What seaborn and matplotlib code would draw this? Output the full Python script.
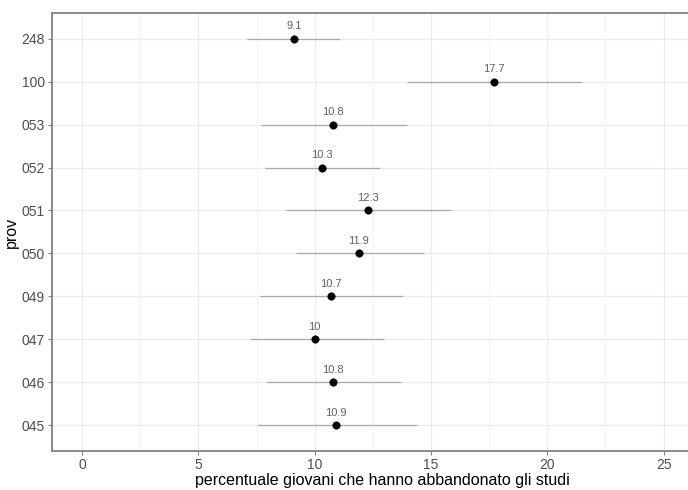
import numpy as np
import matplotlib
matplotlib.use("Agg")
import matplotlib.pyplot as plt
import seaborn as sns
from matplotlib.ticker import MultipleLocator

# data, bottom to top
prov = ["045", "046", "047", "049", "050", "051", "052", "053", "100", "248"]
perc = [10.9, 10.8, 10.0, 10.7, 11.9, 12.3, 10.3, 10.8, 17.7, 9.1]
low = [7.5, 7.9, 7.2, 7.65, 9.2, 8.75, 7.85, 7.7, 13.95, 7.1]
high = [14.4, 13.7, 13.0, 13.8, 14.7, 15.85, 12.8, 13.95, 21.5, 11.1]
labels = ["10.9", "10.8", "10", "10.7", "11.9", "12.3", "10.3", "10.8", "17.7", "9.1"]

sns.set_theme(style="whitegrid")
plt.rcParams["font.family"] = ["Liberation Sans", "DejaVu Sans"]

fig = plt.figure(figsize=(6.88, 4.90), dpi=100)
# the original is cropped on the right, so the panel runs past the edge
ax = fig.add_axes([0.0756, 0.0796, 0.96, 0.894])

pos = np.arange(len(prov))

ax.hlines(pos, low, high, color="#a8a8a8", linewidth=0.9, zorder=2)
sns.scatterplot(x=perc, y=pos, ax=ax, color="black", s=28, edgecolor="black",
                linewidth=0.5, zorder=3, legend=False)

for p, v, t in zip(pos, perc, labels):
    ax.text(v, p + 0.29, t, ha="center", va="center", fontsize=8, color="#606060")

ax.set_xlim(-1.29, 27.1)
ax.set_ylim(-0.6, len(prov) - 0.4)
ax.xaxis.set_major_locator(MultipleLocator(5))
ax.xaxis.set_minor_locator(MultipleLocator(2.5))
ax.set_yticks(pos)
ax.set_yticklabels(prov)

ax.grid(which="major", color="#ebebeb", linewidth=0.8)
ax.grid(which="minor", axis="x", color="#f0f0f0", linewidth=0.6)
ax.set_facecolor("white")
for s in ax.spines.values():
    s.set_color("#808080")
    s.set_linewidth(1.3)

ax.tick_params(axis="both", which="major", length=3, width=0.8, color="#808080",
               labelsize=10, labelcolor="#4d4d4d", pad=2, left=True, bottom=True)
ax.tick_params(axis="x", which="minor", length=0)

ax.set_xlabel("percentuale giovani che hanno abbandonato gli studi", fontsize=11.5,
              color="black", labelpad=1)
ax.set_ylabel("prov", fontsize=11.5, color="black", labelpad=2)

fig.savefig("out.png", dpi=100, facecolor="white")
